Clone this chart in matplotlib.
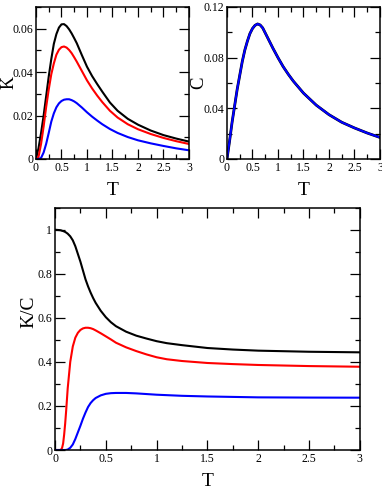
import numpy as np
import matplotlib.pyplot as plt
from matplotlib.ticker import MultipleLocator, FuncFormatter

plt.rcParams["font.family"] = ["Liberation Serif", "DejaVu Serif"]

# --- K(T), top-left panel ---
t_k = [0, 0.05, 0.1, 0.15, 0.2, 0.25, 0.3, 0.35, 0.4, 0.45, 0.5, 0.55, 0.6, 0.65,
       0.7, 0.75, 0.8, 0.9, 1.0, 1.1, 1.2, 1.3, 1.45, 1.6, 1.8, 2.0, 2.25, 2.5,
       2.75, 3.0]
k_black = [0, 0.005, 0.012, 0.020, 0.029, 0.038, 0.046, 0.053, 0.0575, 0.0605,
           0.0620, 0.0621, 0.0612, 0.0597, 0.0578, 0.0556, 0.0533, 0.0478, 0.0425,
           0.0382, 0.0345, 0.031, 0.026, 0.0222, 0.0185, 0.0158, 0.0131, 0.0110,
           0.0094, 0.0080]
k_red = [0, 0.001, 0.007, 0.015, 0.024, 0.032, 0.039, 0.044, 0.048, 0.0503,
         0.0515, 0.0518, 0.0513, 0.0502, 0.0487, 0.0468, 0.0448, 0.0405, 0.0362,
         0.0325, 0.0292, 0.0262, 0.0222, 0.0191, 0.0160, 0.0137, 0.0115, 0.0097,
         0.0082, 0.0069]
k_blue = [0, 0, 0.0005, 0.003, 0.007, 0.012, 0.0172, 0.021, 0.0238, 0.0256,
          0.0267, 0.0273, 0.0275, 0.0275, 0.0271, 0.0265, 0.0257, 0.0237, 0.0215,
          0.0195, 0.0177, 0.016, 0.0138, 0.012, 0.0101, 0.0086, 0.0072, 0.006,
          0.0049, 0.0040]

# --- C(T), top-right panel ---
t_c = [0, 0.05, 0.1, 0.15, 0.2, 0.25, 0.3, 0.35, 0.4, 0.45, 0.5, 0.55, 0.6, 0.65,
       0.7, 0.8, 0.9, 1.0, 1.1, 1.2, 1.3, 1.5, 1.75, 2.0, 2.25, 2.5, 2.75, 3.0]
c_vals = [0, 0.014, 0.029, 0.042, 0.055, 0.066, 0.077, 0.086, 0.093, 0.099, 0.103,
          0.1055, 0.1066, 0.1058, 0.1035, 0.0955, 0.0875, 0.080, 0.073, 0.067,
          0.0615, 0.052, 0.0425, 0.035, 0.029, 0.0245, 0.0205, 0.017]

# --- K/C(T), bottom panel ---
t_r = [0, 0.05, 0.06, 0.07, 0.08, 0.09, 0.1, 0.11, 0.125, 0.15, 0.175, 0.2, 0.225,
       0.25, 0.275, 0.3, 0.325, 0.35, 0.375, 0.4, 0.45, 0.5, 0.55, 0.6, 0.7, 0.8,
       0.9, 1.0, 1.1, 1.25, 1.5, 1.75, 2.0, 2.5, 3.0]
r_black = [1.0, 0.998, 0.997, 0.995, 0.994, 0.992, 0.99, 0.987, 0.982, 0.97, 0.952,
           0.925, 0.89, 0.855, 0.815, 0.775, 0.743, 0.715, 0.69, 0.668, 0.632,
           0.603, 0.58, 0.562, 0.537, 0.519, 0.506, 0.494, 0.485, 0.476, 0.463,
           0.456, 0.451, 0.446, 0.4434]
r_red = [0, 0, 0.002, 0.01, 0.03, 0.07, 0.12, 0.18, 0.28, 0.40, 0.47, 0.51, 0.532,
         0.545, 0.552, 0.555, 0.555, 0.553, 0.549, 0.543, 0.53, 0.516, 0.502, 0.487,
         0.466, 0.449, 0.434, 0.421, 0.412, 0.404, 0.395, 0.39, 0.386, 0.381, 0.378]
r_blue = [0, 0, 0, 0, 0, 0, 0, 0.0005, 0.002, 0.01, 0.025, 0.05, 0.08, 0.11, 0.142,
          0.17, 0.195, 0.213, 0.226, 0.236, 0.248, 0.255, 0.258, 0.259, 0.259,
          0.257, 0.254, 0.251, 0.249, 0.246, 0.243, 0.241, 0.239, 0.238, 0.2375]


def fmt(v, pos):
    return f"{v:.2f}".rstrip("0").rstrip(".")


def style(ax, ymax, ymaj, ymin):
    ax.set_xlim(0, 3)
    ax.set_ylim(0, ymax)
    ax.xaxis.set_major_locator(MultipleLocator(0.5))
    ax.xaxis.set_minor_locator(MultipleLocator(0.25))
    ax.yaxis.set_major_locator(MultipleLocator(ymaj))
    ax.yaxis.set_minor_locator(MultipleLocator(ymin))
    ax.xaxis.set_major_formatter(FuncFormatter(fmt))
    ax.yaxis.set_major_formatter(FuncFormatter(fmt))
    ax.tick_params(which="both", direction="in", top=True, right=True,
                   labelsize=8.5, pad=2, width=0.9)
    ax.tick_params(which="major", length=7)
    ax.tick_params(which="minor", length=3.5)
    for sp in ax.spines.values():
        sp.set_linewidth(1.1)
    ax.set_xlabel("T", fontsize=14, labelpad=6)


fig = plt.figure(figsize=(3.82, 4.91), dpi=100)

ax1 = fig.add_axes([0.0942, 0.6762, 0.4005, 0.3096])
ax1.plot(t_k, k_black, color="black", lw=1.5)
ax1.plot(t_k, k_red, color="red", lw=1.5)
ax1.plot(t_k, k_blue, color="blue", lw=1.5)
style(ax1, 0.07, 0.02, 0.01)
ax1.set_ylabel("K", fontsize=13)
ax1.yaxis.set_label_coords(-0.12, 0.5)

ax2 = fig.add_axes([0.5942, 0.6762, 0.4005, 0.3096])
ax2.plot(t_c, c_vals, color="black", lw=2.0)
ax2.plot(t_c, c_vals, color="blue", lw=1.5)
style(ax2, 0.12, 0.04, 0.02)
ax2.set_ylabel("C", fontsize=13.5)
ax2.yaxis.set_label_coords(-0.13, 0.5)

ax3 = fig.add_axes([0.144, 0.0835, 0.798, 0.4935])
ax3.plot(t_r, r_black, color="black", lw=1.5)
ax3.plot(t_r, r_red, color="red", lw=1.5)
ax3.plot(t_r, r_blue, color="blue", lw=1.5)
style(ax3, 1.1, 0.2, 0.1)
ax3.set_ylabel("K/C", fontsize=14)
ax3.yaxis.set_label_coords(-0.058, 0.57)

fig.savefig("out.png", dpi=100)
